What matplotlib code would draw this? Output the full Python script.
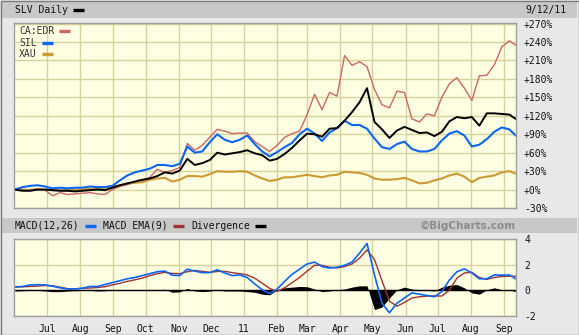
import pandas as pd
import matplotlib
matplotlib.use('Agg')
import matplotlib.pyplot as plt
import matplotlib.dates as mdates
from matplotlib.lines import Line2D
from matplotlib.patches import Rectangle

# weekly closes, % change since the start of the window
dates = pd.date_range('2010-06-01', '2011-09-06', freq='7D').append(pd.DatetimeIndex(['2011-09-12']))

slv = [0, -2, -2, 0, 0, -1, -2, -2, -3, -2,
       -1, 0, -1, 3, 7, 10, 13, 16, 18, 22,
       28, 26, 31, 50, 40, 43, 48, 60, 57, 59,
       61, 64, 59, 56, 47, 50, 58, 68, 80, 91,
       90, 86, 99, 100, 112, 126, 142, 165, 110, 98,
       84, 96, 102, 97, 92, 93, 87, 94, 111, 118,
       116, 118, 104, 124, 124, 123, 122, 115]
sil = [0, 4, 6, 7, 5, 2, 3, 2, 3, 3,
       5, 4, 4, 6, 15, 23, 28, 31, 34, 40,
       40, 38, 42, 70, 60, 62, 77, 90, 81, 77,
       81, 88, 74, 62, 54, 61, 69, 76, 90, 99,
       91, 79, 93, 100, 112, 105, 105, 99, 83, 69,
       66, 74, 78, 66, 62, 62, 66, 80, 91, 95,
       88, 70, 73, 82, 94, 101, 98, 88]
edr = [0, -1, 0, 1, -1, -10, -5, -8, -7, -6,
       -5, -7, -8, 0, 5, 8, 12, 14, 20, 33,
       28, 31, 36, 75, 64, 72, 85, 98, 95, 91,
       92, 92, 78, 70, 62, 72, 85, 91, 95, 122,
       155, 130, 158, 152, 218, 202, 208, 200, 163, 138,
       133, 160, 158, 115, 110, 123, 120, 150, 172, 182,
       165, 145, 185, 186, 203, 232, 242, 235]
xau = [0, 0, -1, 0, 0, -1, -1, -1, 0, 0,
       1, 2, 3, 5, 7, 10, 11, 12, 16, 18,
       19, 13, 16, 22, 22, 21, 25, 30, 29, 29,
       30, 29, 23, 18, 14, 16, 20, 20, 22, 24,
       22, 20, 23, 24, 29, 28, 27, 24, 18, 16,
       16, 17, 19, 15, 10, 11, 15, 18, 23, 26,
       21, 12, 19, 21, 23, 28, 30, 26]

# MACD(12,26) on SLV
macd = [0.26, 0.3, 0.42, 0.44, 0.42, 0.32, 0.2, 0.1, 0.1, 0.17,
        0.3, 0.3, 0.45, 0.6, 0.75, 0.9, 1.0, 1.15, 1.3, 1.45,
        1.5, 1.18, 1.15, 1.65, 1.5, 1.38, 1.38, 1.6, 1.35, 1.15,
        1.2, 1.0, 0.5, 0.05, -0.25, 0.1, 0.7, 1.25, 1.65, 2.05,
        2.2, 1.85, 1.74, 1.8, 1.95, 2.2, 2.9, 3.65, 1.2, -1.0,
        -1.75, -1.0, -0.6, -0.2, -0.3, -0.4, -0.5, -0.1, 0.8, 1.45,
        1.67, 1.35, 0.9, 0.9, 1.2, 1.18, 1.2, 0.9]
macd_ema = [0.26, 0.27, 0.3, 0.33, 0.38, 0.36, 0.25, 0.13, 0.12, 0.15,
            0.18, 0.22, 0.28, 0.42, 0.55, 0.7, 0.82, 0.95, 1.14, 1.3,
            1.4, 1.32, 1.3, 1.45, 1.55, 1.48, 1.4, 1.47, 1.48, 1.38,
            1.3, 1.2, 0.95, 0.55, 0.15, -0.08, 0.2, 0.6, 1.0, 1.5,
            1.95, 1.95, 1.8, 1.75, 1.85, 2.05, 2.5, 3.15, 2.4, 0.75,
            -0.85, -1.24, -0.95, -0.6, -0.5, -0.45, -0.44, -0.44, 0.0, 0.95,
            1.35, 1.41, 1.0, 0.85, 1.0, 1.08, 1.1, 1.1]
divergence = [-0.05, -0.03, 0, 0, -0.05, -0.1, -0.1, -0.05, -0.03, 0,
              0, -0.05, -0.03, 0.05, 0.06, 0.05, 0.04, 0.04, 0.05, 0.04,
              0.08, -0.15, -0.12, 0.15, -0.05, -0.1, -0.06, 0.05, -0.05, -0.05,
              -0.05, -0.1, -0.15, -0.3, -0.35, 0.05, 0.2, 0.25, 0.3, 0.28,
              0.1, -0.1, -0.05, 0.05, 0.1, 0.25, 0.35, 0.35, -1.5, -1.3,
              -0.6, 0.05, 0.25, 0.1, 0.05, 0, -0.05, 0.25, 0.4, 0.45,
              0.2, -0.2, -0.3, 0.05, 0.2, 0.05, 0.05, -0.1]

month_starts = pd.date_range('2010-07-01', '2011-09-01', freq='MS')
month_labels = ['Jul', 'Aug', 'Sep', 'Oct', 'Nov', 'Dec', '11', 'Feb',
                'Mar', 'Apr', 'May', 'Jun', 'Jul', 'Aug', 'Sep']
pct_ticks = list(range(-30, 271, 30))
pct_labels = [f'{v:+d}%' for v in pct_ticks]
macd_ticks = [-2, 0, 2, 4]

# colours
bg = '#e8e8e8'
band = '#c8c8c8'
panel = '#fefee2'
grid_c = '#d6d29c'
c_edr = '#cc6666'
c_sil = '#0a66f5'
c_xau = '#cc9933'
c_ema = '#a33333'
mono = 'DejaVu Sans Mono'

W, H = 579, 335
fig = plt.figure(figsize=(W / 100, H / 100), dpi=100, facecolor=bg)

# title band and the band between the two panels
fig.add_artist(Rectangle((2 / W, 1 - 18 / H), 575 / W, 16 / H, transform=fig.transFigure,
                         facecolor=band, edgecolor='none'))
fig.add_artist(Rectangle((2 / W, 1 - 233 / H), 575 / W, 15 / H, transform=fig.transFigure,
                         facecolor=band, edgecolor='none'))
fig.add_artist(Rectangle((0.5 / W, 0.5 / H), 578 / W, 334 / H, transform=fig.transFigure,
                         facecolor='none', edgecolor='#7c7c7c', lw=1))

ax = fig.add_axes([14 / W, 1 - 208 / H, 501.7 / W, 185 / H])
ax2 = fig.add_axes([14 / W, 1 - 316 / H, 501.7 / W, 77 / H])

xlim = (mdates.date2num(pd.Timestamp('2010-05-31')), mdates.date2num(pd.Timestamp('2011-09-12')))
mticks = mdates.date2num(month_starts)

for a in (ax, ax2):
    a.set_facecolor(panel)
    a.set_xlim(xlim)
    a.set_xticks(mticks)
    a.grid(True, color=grid_c, lw=1)
    a.set_axisbelow(True)
    a.yaxis.tick_right()
    a.tick_params(length=0, labelsize=7, colors='#111111', pad=6)
    for s in a.spines.values():
        s.set_color('#a0a0a0')
        s.set_linewidth(1)

# price panel
x = mdates.date2num(dates)
ax.plot(x, edr, color=c_edr, lw=1.0)
ax.plot(x, xau, color=c_xau, lw=1.5)
ax.plot(x, sil, color=c_sil, lw=1.5)
ax.plot(x, slv, color='black', lw=1.4)
ax.set_ylim(-30, 271)
ax.set_yticks(pct_ticks)
ax.set_yticklabels(pct_labels, family=mono, fontsize=7)
ax.set_xticklabels([])

# MACD panel
ax2.fill_between(x, divergence, 0, color='black', lw=0)
ax2.axhline(0, color='black', lw=1)
ax2.plot(x, macd_ema, color=c_ema, lw=1.0)
ax2.plot(x, macd, color=c_sil, lw=1.2)
ax2.set_ylim(-2, 4)
ax2.set_yticks(macd_ticks)
ax2.set_yticklabels([str(v) for v in macd_ticks], family=mono, fontsize=7)
ax2.set_xticklabels(month_labels, family=mono, fontsize=7)
ax2.tick_params(axis='x', pad=6)

renderer = fig.canvas.get_renderer()


def label(px, py, text, swatch=None, color='#111111'):
    t = fig.text(px / W, 1 - py / H, text, family=mono, fontsize=7, color=color,
                 ha='left', va='center')
    if swatch is not None:
        bb = t.get_window_extent(renderer)
        x0 = bb.x1 + 5
        fig.add_artist(Line2D([x0 / W, (x0 + 11) / W], [1 - py / H, 1 - py / H],
                              transform=fig.transFigure, color=swatch, lw=2.4,
                              solid_capstyle='butt'))
    return t


label(15, 10, 'SLV Daily', 'black')
fig.text(566 / W, 1 - 10 / H, '9/12/11', family=mono, fontsize=7, color='#111111',
         ha='right', va='center')

label(19, 31, 'CA:EDR', c_edr, color='#333333')
label(19, 43, 'SIL', c_sil, color='#333333')
label(19, 54, 'XAU', c_xau, color='#333333')

label(15, 226, 'MACD(12,26)', c_sil)
label(103, 226, 'MACD EMA(9)', c_ema)
label(191, 226, 'Divergence', 'black')
fig.text(516 / W, 1 - 226 / H, '\u00a9BigCharts.com', fontsize=7.5, fontweight='bold',
         color='#8c8c8c', ha='right', va='center')

fig.savefig('out.png', dpi=100, facecolor=bg)
